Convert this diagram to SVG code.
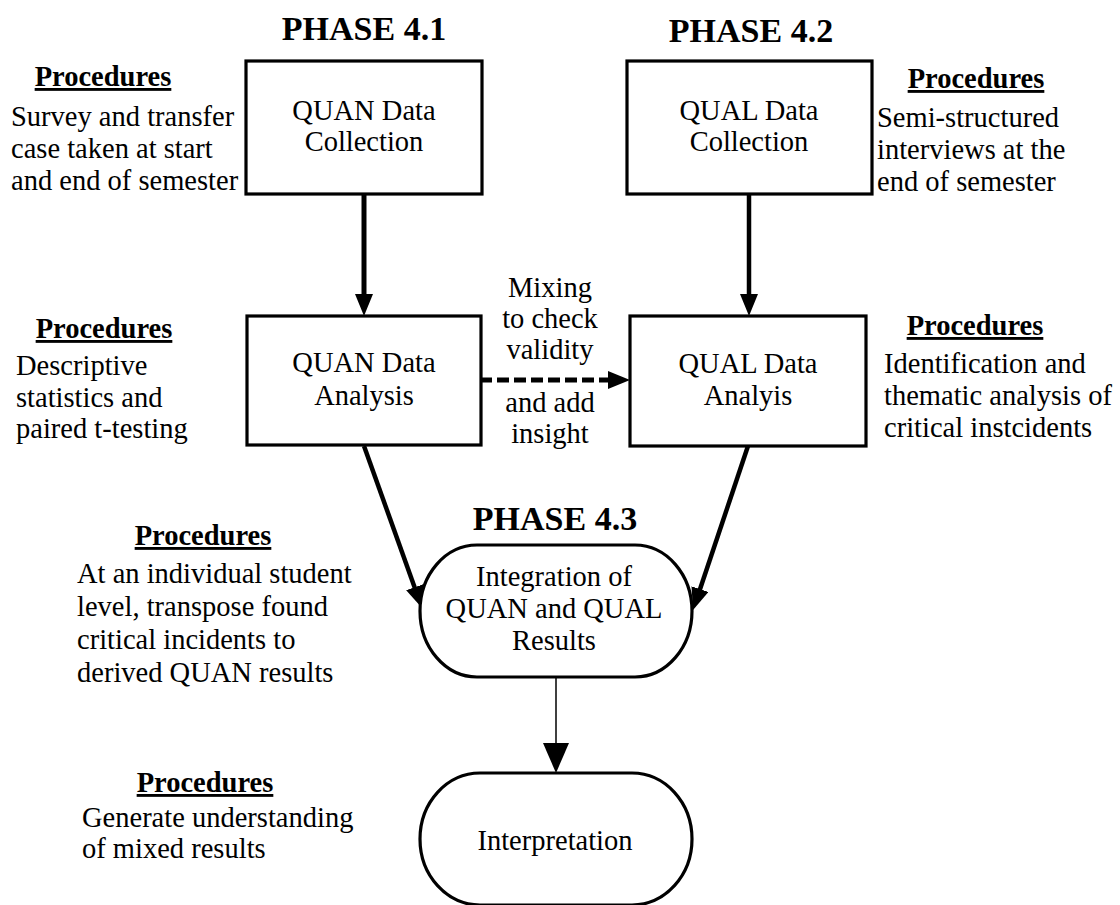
<svg xmlns="http://www.w3.org/2000/svg" width="1120" height="905" viewBox="0 0 1120 905">
<style>
text{font-family:"Liberation Serif","Times New Roman",serif;fill:#000}
.t{font-size:28.5px}
.c{text-anchor:middle}
.ph{font-size:34px;font-weight:bold;text-anchor:middle}
.pr{font-size:28.5px;font-weight:bold;text-decoration:underline;text-anchor:middle}
.box{fill:#fff;stroke:#000;stroke-width:3.2}
.ln{fill:none;stroke:#000}
</style>
<defs>
<marker id="ah" markerUnits="userSpaceOnUse" markerWidth="22" markerHeight="18" refX="2" refY="9" orient="auto" viewBox="0 0 22 18">
<path d="M0,0 L22,9 L0,18 z" fill="#000"/>
</marker>
<marker id="ahs" markerUnits="userSpaceOnUse" markerWidth="30" markerHeight="26" refX="2" refY="13" orient="auto" viewBox="0 0 30 26">
<path d="M0,0 L30,13 L0,26 z" fill="#000"/>
</marker>
</defs>
<rect width="1120" height="905" fill="#fff"/>

<g id="headings">
<text class="ph" x="364" y="40">PHASE 4.1</text>
<text class="ph" x="751" y="42">PHASE 4.2</text>
<text class="ph" x="555" y="530">PHASE 4.3</text>
</g>

<g id="connectors">
<line class="ln" x1="364" y1="195" x2="364" y2="296" stroke-width="5" marker-end="url(#ah)"/>
<line class="ln" x1="749" y1="195" x2="749" y2="296" stroke-width="4.5" marker-end="url(#ah)"/>
<line class="ln" x1="480" y1="380" x2="610" y2="380" stroke-width="5" stroke-dasharray="12 5" marker-end="url(#ah)"/>
<line class="ln" x1="364" y1="446" x2="415.3" y2="589.2" stroke-width="4.5" marker-end="url(#ah)"/>
<line class="ln" x1="748" y1="446" x2="699.4" y2="591" stroke-width="4.5" marker-end="url(#ah)"/>
<line class="ln" x1="556" y1="677" x2="556" y2="745" stroke-width="1.5" marker-end="url(#ahs)"/>
</g>

<g id="quan-collection">
<rect class="box" x="246" y="61" width="236" height="133"/>
<text class="t c" x="364" y="120">QUAN Data</text>
<text class="t c" x="364" y="151">Collection</text>
</g>
<g id="qual-collection">
<rect class="box" x="627" y="61" width="245" height="133"/>
<text class="t c" x="749" y="120">QUAL Data</text>
<text class="t c" x="749" y="151">Collection</text>
</g>
<g id="quan-analysis">
<rect class="box" x="247" y="316" width="234" height="129"/>
<text class="t c" x="364" y="372">QUAN Data</text>
<text class="t c" x="364" y="405">Analysis</text>
</g>
<g id="qual-analysis">
<rect class="box" x="630" y="316" width="236" height="130"/>
<text class="t c" x="748" y="373">QUAL Data</text>
<text class="t c" x="748" y="405">Analyis</text>
</g>
<g id="integration">
<rect class="box" x="420" y="545" width="272" height="132" rx="57" ry="66"/>
<text class="t c" x="554" y="586">Integration of</text>
<text class="t c" x="554" y="618">QUAN and QUAL</text>
<text class="t c" x="554" y="650">Results</text>
</g>
<g id="interpretation">
<rect class="box" x="420" y="773" width="272" height="132" rx="60" ry="66"/>
<text class="t c" x="555" y="850">Interpretation</text>
</g>

<g id="mixing-label">
<text class="t c" x="550" y="297">Mixing</text>
<text class="t c" x="550" y="328">to check</text>
<text class="t c" x="550" y="359">validity</text>
<text class="t c" x="550" y="412">and add</text>
<text class="t c" x="550" y="443">insight</text>
</g>

<g id="proc-1">
<text class="pr" x="103" y="86">Procedures</text>
<text class="t" x="11" y="126">Survey and transfer</text>
<text class="t" x="11" y="158">case taken at start</text>
<text class="t" x="11" y="190">and end of semester</text>
</g>
<g id="proc-2">
<text class="pr" x="976" y="88">Procedures</text>
<text class="t" x="877" y="127">Semi-structured</text>
<text class="t" x="877" y="159">interviews at the</text>
<text class="t" x="877" y="191">end of semester</text>
</g>
<g id="proc-3">
<text class="pr" x="104" y="338">Procedures</text>
<text class="t" x="16" y="375">Descriptive</text>
<text class="t" x="16" y="407">statistics and</text>
<text class="t" x="16" y="438">paired t-testing</text>
</g>
<g id="proc-4">
<text class="pr" x="975" y="335">Procedures</text>
<text class="t" x="884" y="373">Identification and</text>
<text class="t" x="884" y="405">thematic analysis of</text>
<text class="t" x="884" y="437">critical instcidents</text>
</g>
<g id="proc-5">
<text class="pr" x="203" y="545">Procedures</text>
<text class="t" x="77" y="583">At an individual student</text>
<text class="t" x="77" y="616">level, transpose found</text>
<text class="t" x="77" y="649">critical incidents to</text>
<text class="t" x="77" y="682">derived QUAN results</text>
</g>
<g id="proc-6">
<text class="pr" x="205" y="792">Procedures</text>
<text class="t" x="82" y="827">Generate understanding</text>
<text class="t" x="82" y="858">of mixed results</text>
</g>
</svg>
